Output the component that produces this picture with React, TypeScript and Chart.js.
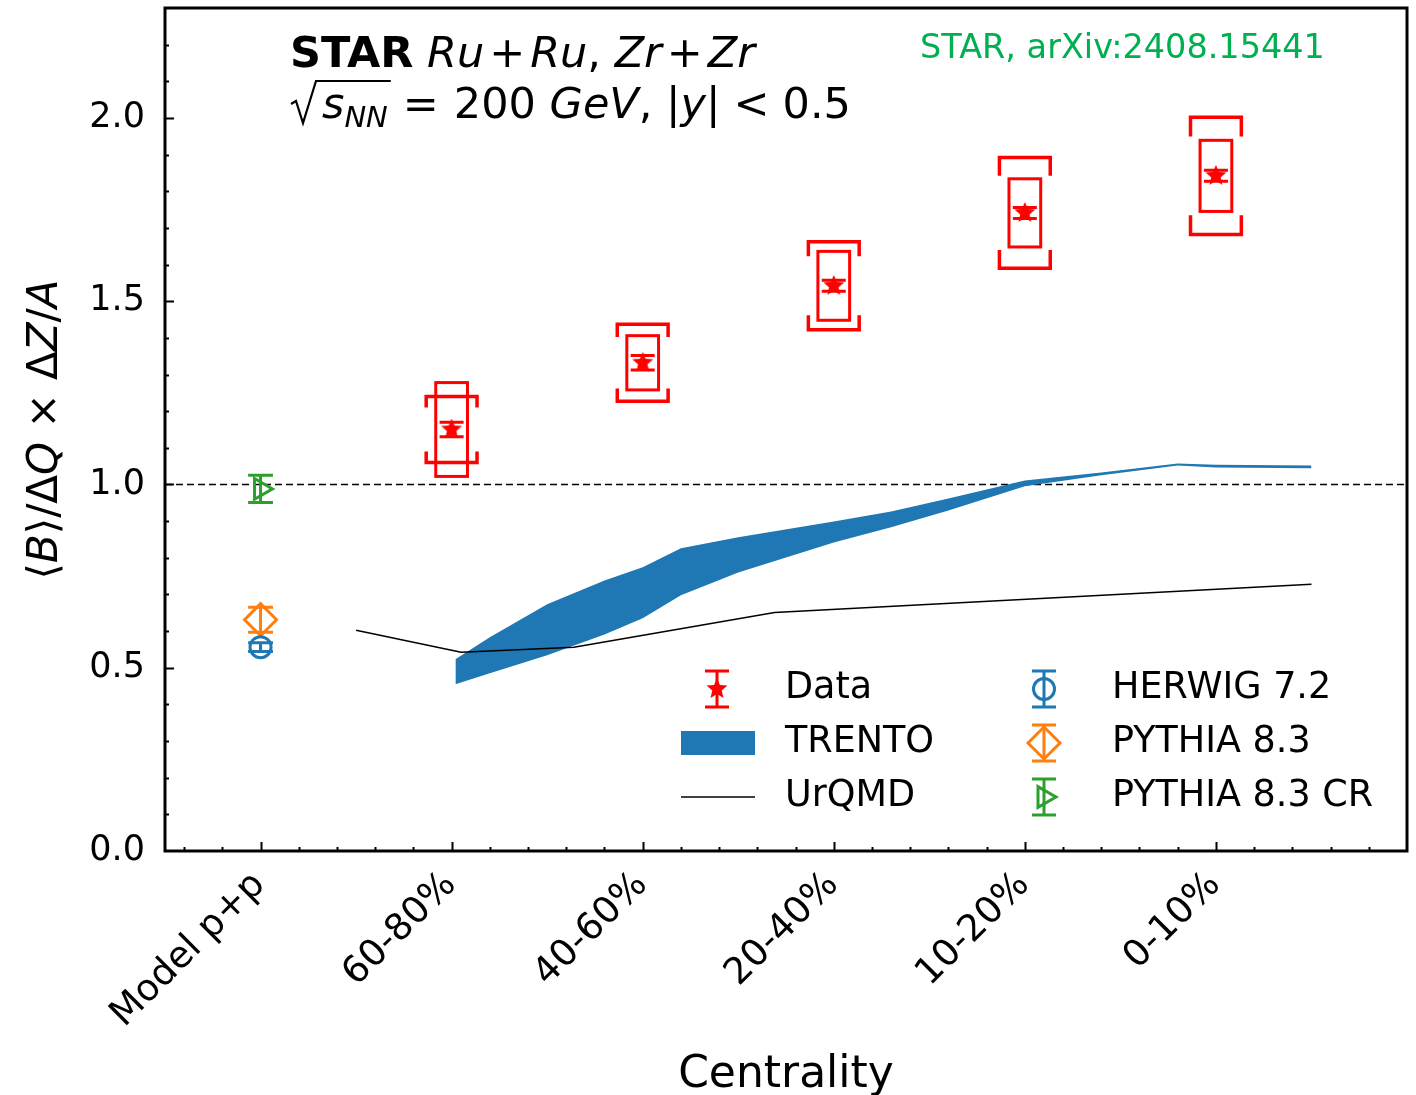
import React, { useEffect, useRef } from 'react';
import { Chart, registerables } from 'chart.js';
import { drawPoint } from 'chart.js/helpers';
Chart.register(...registerables);

const FONT = '"DejaVu Sans"';

// categories on the x axis (x = index)
const categories = ['Model p+p', '60-80%', '40-60%', '20-40%', '10-20%', '0-10%'];
const yTickValues = [0, 0.5, 1.0, 1.5, 2.0];

// STAR data
const dataX = [1, 2, 3, 4, 5];
const dataY = [1.150, 1.332, 1.542, 1.741, 1.842];
const dataStat = [0.02, 0.02, 0.015, 0.015, 0.015];
const dataSysBox = [0.128, 0.074, 0.094, 0.093, 0.097];
const dataSysBracket = [0.09, 0.105, 0.12, 0.151, 0.16];

// p+p model points
const herwigX = [0];
const herwigY = [0.556];
const herwigErr = [0.012];
const pythiaX = [0];
const pythiaY = [0.631];
const pythiaErr = [0.034];
const pythiaCRX = [0];
const pythiaCRY = [0.988];
const pythiaCRErr = [0.037];

// TRENTO band
const trentoX = [1.02, 1.2, 1.5, 1.8, 2.0, 2.2, 2.5, 3.0, 3.3, 3.6, 4.0, 4.4, 4.8, 5.0, 5.5];
const trentoHigh = [0.523, 0.583, 0.673, 0.738, 0.774, 0.826, 0.856, 0.899, 0.926, 0.962, 1.011, 1.033, 1.057, 1.054, 1.052];
const trentoLow = [0.455, 0.485, 0.534, 0.591, 0.635, 0.698, 0.760, 0.842, 0.883, 0.929, 0.995, 1.025, 1.052, 1.046, 1.044];

// UrQMD line
const urqmdX = [0.5, 1.05, 1.64, 2.69, 5.5];
const urqmdY = [0.602, 0.542, 0.556, 0.651, 0.728];

const RED = '#ff0000';
const BLUE = '#1f77b4';
const ORANGE = '#ff7f0e';
const GREEN = '#2ca02c';
const LABEL_GREEN = '#00b050';

function starPath(g: CanvasRenderingContext2D, cx: number, cy: number, R: number) {
  const r = R * 0.45;
  g.beginPath();
  for (let k = 0; k < 10; k++) {
    const a = -Math.PI / 2 + (k * Math.PI) / 5;
    const rr = k % 2 === 0 ? R : r;
    const px = cx + rr * Math.cos(a);
    const py = cy + rr * Math.sin(a);
    if (k === 0) g.moveTo(px, py);
    else g.lineTo(px, py);
  }
  g.closePath();
}

function makeStar(R: number, color: string) {
  const size = Math.ceil(R * 2 + 4);
  const c = document.createElement('canvas');
  c.width = size;
  c.height = size;
  const g = c.getContext('2d')!;
  starPath(g, size / 2, size / 2, R);
  g.fillStyle = color;
  g.fill();
  return c;
}

type Seg = { t: string; s?: 'n' | 'i' | 'b'; size?: number; dy?: number };

function fontOf(seg: Seg, base: number) {
  const size = seg.size ?? base;
  const st = seg.s === 'i' ? 'italic ' : seg.s === 'b' ? 'bold ' : '';
  return `${st}${size}px ${FONT}`;
}

function measureRich(ctx: CanvasRenderingContext2D, segs: Seg[], base: number) {
  let w = 0;
  for (const sg of segs) {
    ctx.font = fontOf(sg, base);
    w += ctx.measureText(sg.t).width;
  }
  return w;
}

function drawRich(ctx: CanvasRenderingContext2D, x: number, y: number, segs: Seg[], base: number) {
  let cx = x;
  ctx.textAlign = 'left';
  ctx.textBaseline = 'alphabetic';
  for (const sg of segs) {
    ctx.font = fontOf(sg, base);
    ctx.fillText(sg.t, cx, y + (sg.dy ?? 0));
    cx += ctx.measureText(sg.t).width;
  }
  return cx;
}

function errBar(ctx: CanvasRenderingContext2D, x: number, y1: number, y2: number, cap: number) {
  ctx.beginPath();
  ctx.moveTo(x, y1);
  ctx.lineTo(x, y2);
  ctx.moveTo(x - cap, y1);
  ctx.lineTo(x + cap, y1);
  ctx.moveTo(x - cap, y2);
  ctx.lineTo(x + cap, y2);
  ctx.stroke();
}

const customPlugin = {
  id: 'custom',
  afterDatasetsDraw(chart: any) {
    const ctx: CanvasRenderingContext2D = chart.ctx;
    const xs = chart.scales.x;
    const ys = chart.scales.y;
    ctx.save();
    ctx.strokeStyle = RED;
    for (let i = 0; i < dataX.length; i++) {
      const xc = xs.getPixelForValue(dataX[i]);
      const bx1 = xs.getPixelForValue(dataX[i] - 0.083);
      const bx2 = xs.getPixelForValue(dataX[i] + 0.083);
      const by1 = ys.getPixelForValue(dataY[i] + dataSysBox[i]);
      const by2 = ys.getPixelForValue(dataY[i] - dataSysBox[i]);
      ctx.lineWidth = 3;
      ctx.strokeRect(bx1, by1, bx2 - bx1, by2 - by1);
      const kx1 = xs.getPixelForValue(dataX[i] - 0.133);
      const kx2 = xs.getPixelForValue(dataX[i] + 0.133);
      const ky1 = ys.getPixelForValue(dataY[i] + dataSysBracket[i]);
      const ky2 = ys.getPixelForValue(dataY[i] - dataSysBracket[i]);
      const leg = ys.getPixelForValue(0) - ys.getPixelForValue(dataSysBracket[i] * 0.33);
      ctx.lineWidth = 3.5;
      ctx.beginPath();
      ctx.moveTo(kx1, ky1 + leg);
      ctx.lineTo(kx1, ky1);
      ctx.lineTo(kx2, ky1);
      ctx.lineTo(kx2, ky1 + leg);
      ctx.moveTo(kx1, ky2 - leg);
      ctx.lineTo(kx1, ky2);
      ctx.lineTo(kx2, ky2);
      ctx.lineTo(kx2, ky2 - leg);
      ctx.stroke();
      ctx.lineWidth = 3;
      errBar(ctx, xc, ys.getPixelForValue(dataY[i] + dataStat[i]), ys.getPixelForValue(dataY[i] - dataStat[i]), 12);
    }
    const models: [number[], number[], number[], string][] = [
      [herwigX, herwigY, herwigErr, BLUE],
      [pythiaX, pythiaY, pythiaErr, ORANGE],
      [pythiaCRX, pythiaCRY, pythiaCRErr, GREEN],
    ];
    ctx.lineWidth = 3;
    for (const [mx, my, me, col] of models) {
      ctx.strokeStyle = col;
      for (let i = 0; i < mx.length; i++) {
        const xc = xs.getPixelForValue(mx[i]);
        const cap = xs.getPixelForValue(mx[i] + 0.065) - xc;
        errBar(ctx, xc, ys.getPixelForValue(my[i] + me[i]), ys.getPixelForValue(my[i] - me[i]), cap);
      }
    }
    ctx.restore();
  },
  afterDraw(chart: any) {
    const ctx: CanvasRenderingContext2D = chart.ctx;
    const xs = chart.scales.x;
    const ys = chart.scales.y;
    const a = chart.chartArea;
    ctx.save();
    ctx.fillStyle = '#000';
    ctx.strokeStyle = '#000';

    // inward ticks
    ctx.lineWidth = 2;
    ctx.beginPath();
    for (let k = 1; k <= 22; k++) {
      const v = k / 10;
      const py = Math.round(ys.getPixelForValue(v)) + 0.5;
      const len = k % 5 === 0 ? 9 : 4;
      ctx.moveTo(a.left, py);
      ctx.lineTo(a.left + len, py);
    }
    for (let k = -2; k <= 30; k++) {
      const v = k / 5;
      if (v <= -0.5 || v >= 6) continue;
      const px = Math.round(xs.getPixelForValue(v)) + 0.5;
      const len = k % 5 === 0 ? 9 : 4;
      ctx.moveTo(px, a.bottom);
      ctx.lineTo(px, a.bottom - len);
    }
    ctx.stroke();

    // frame
    ctx.lineWidth = 3;
    ctx.strokeRect(a.left, a.top, a.right - a.left, a.bottom - a.top);

    // x tick labels (rotated 45)
    ctx.font = `37px ${FONT}`;
    ctx.textAlign = 'right';
    ctx.textBaseline = 'middle';
    categories.forEach((c, i) => {
      const px = xs.getPixelForValue(i);
      ctx.save();
      ctx.translate(px - 1, a.bottom + 28);
      ctx.rotate(-Math.PI / 4);
      ctx.fillText(c, 0, 0);
      ctx.restore();
    });

    // x title
    ctx.font = `44px ${FONT}`;
    ctx.textAlign = 'center';
    ctx.textBaseline = 'alphabetic';
    ctx.fillText('Centrality', (a.left + a.right) / 2, 1087);

    // y title
    const ySegs: Seg[] = [
      { t: '⟨' }, { t: 'B', s: 'i' }, { t: '⟩/Δ' }, { t: 'Q', s: 'i' },
      { t: ' × Δ' }, { t: 'Z', s: 'i' }, { t: '/' }, { t: 'A', s: 'i' },
    ];
    const yw = measureRich(ctx, ySegs, 42);
    ctx.save();
    ctx.translate(57, (a.top + a.bottom) / 2);
    ctx.rotate(-Math.PI / 2);
    drawRich(ctx, -yw / 2, 0, ySegs, 42);
    ctx.restore();

    // header text
    const x1 = drawRich(ctx, 290, 67, [{ t: 'STAR', s: 'b' }, { t: ' ' }], 43);
    let cx = x1;
    const l1: string[] = ['Ru', '+', 'Ru', ', ', 'Zr', '+', 'Zr'];
    for (const t of l1) {
      const isOp = t === '+';
      if (isOp) cx += 5;
      cx = drawRich(ctx, cx, 67, [{ t, s: t === ', ' ? 'n' : 'i' }], 43);
      if (isOp) cx += 5;
    }

    // second line with sqrt
    const by = 118;
    ctx.lineWidth = 2.2;
    ctx.beginPath();
    ctx.moveTo(291, by - 14);
    ctx.lineTo(296, by - 17);
    ctx.lineTo(303, by + 5);
    ctx.lineTo(316, by - 37);
    const sEnd = 322 + measureRich(ctx, [{ t: 's', s: 'i' }], 43) + measureRich(ctx, [{ t: 'NN', s: 'i', size: 29 }], 43) + 3;
    ctx.lineTo(sEnd, by - 37);
    ctx.stroke();
    let x2 = drawRich(ctx, 322, by, [{ t: 's', s: 'i' }, { t: 'NN', s: 'i', size: 29, dy: 9 }], 43);
    x2 = drawRich(ctx, x2 + 15, by, [{ t: '=' }], 43);
    x2 = drawRich(ctx, x2 + 15, by, [
      { t: '200 ' }, { t: 'GeV', s: 'i' }, { t: ', |' }, { t: 'y', s: 'i' }, { t: '|' },
    ], 43);
    x2 = drawRich(ctx, x2 + 13, by, [{ t: '<' }], 43);
    drawRich(ctx, x2 + 13, by, [{ t: '0.5' }], 43);

    // green reference
    ctx.fillStyle = LABEL_GREEN;
    ctx.font = `33.5px ${FONT}`;
    ctx.textAlign = 'left';
    ctx.fillText('STAR, arXiv:2408.15441', 920, 58);

    // legend
    const rows = [689, 743, 797];
    const c1 = 717;
    const c2 = 1044;
    ctx.font = `36.5px ${FONT}`;
    ctx.fillStyle = '#000';
    ctx.textBaseline = 'middle';
    ctx.textAlign = 'left';
    ctx.fillText('Data', 785, rows[0]);
    ctx.fillText('TRENTO', 785, rows[1]);
    ctx.fillText('UrQMD', 785, rows[2]);
    ctx.fillText('HERWIG 7.2', 1112, rows[0]);
    ctx.fillText('PYTHIA 8.3', 1112, rows[1]);
    ctx.fillText('PYTHIA 8.3 CR', 1112, rows[2]);

    ctx.strokeStyle = RED;
    ctx.lineWidth = 3;
    errBar(ctx, c1, rows[0] - 18, rows[0] + 18, 12);
    ctx.fillStyle = RED;
    starPath(ctx, c1, rows[0], 11);
    ctx.fill();
    ctx.fillStyle = BLUE;
    ctx.fillRect(681, rows[1] - 12, 74, 24);
    ctx.strokeStyle = '#000';
    ctx.lineWidth = 1.5;
    ctx.beginPath();
    ctx.moveTo(681, rows[2]);
    ctx.lineTo(755, rows[2]);
    ctx.stroke();
    const mh: [string, string, number, number, number][] = [
      [BLUE, 'circle', 10.5, 0, rows[0]],
      [ORANGE, 'rectRot', 16, 0, rows[1]],
      [GREEN, 'triangle', 12, 90, rows[2]],
    ];
    for (const [col, ps, r, rot, ry] of mh) {
      ctx.strokeStyle = col;
      ctx.fillStyle = 'rgba(0,0,0,0)';
      ctx.lineWidth = 3;
      errBar(ctx, c2, ry - 18, ry + 18, 12);
      drawPoint(ctx, { pointStyle: ps as any, radius: r, rotation: rot, borderWidth: 3 } as any, c2, ry);
    }
    ctx.restore();
  },
};

export default function App() {
  const ref = useRef<HTMLCanvasElement | null>(null);
  useEffect(() => {
    if (!ref.current) return;
    const star = makeStar(11, RED);
    const chart = new Chart(ref.current, {
      type: 'scatter',
      data: {
        datasets: [
          {
            type: 'scatter',
            label: 'Data',
            data: dataX.map((x, i) => ({ x, y: dataY[i] })),
            pointStyle: star as any,
            pointRadius: 11,
            order: 0,
          } as any,
          {
            type: 'scatter',
            label: 'HERWIG 7.2',
            data: herwigX.map((x, i) => ({ x, y: herwigY[i] })),
            pointStyle: 'circle',
            pointRadius: 10.5,
            borderColor: BLUE,
            backgroundColor: 'rgba(0,0,0,0)',
            borderWidth: 3,
            order: 1,
          },
          {
            type: 'scatter',
            label: 'PYTHIA 8.3',
            data: pythiaX.map((x, i) => ({ x, y: pythiaY[i] })),
            pointStyle: 'rectRot',
            pointRadius: 16,
            borderColor: ORANGE,
            backgroundColor: 'rgba(0,0,0,0)',
            borderWidth: 3,
            order: 1,
          },
          {
            type: 'scatter',
            label: 'PYTHIA 8.3 CR',
            data: pythiaCRX.map((x, i) => ({ x, y: pythiaCRY[i] })),
            pointStyle: 'triangle',
            rotation: 90,
            pointRadius: 12,
            borderColor: GREEN,
            backgroundColor: 'rgba(0,0,0,0)',
            borderWidth: 3,
            order: 1,
          } as any,
          {
            type: 'line',
            label: 'TRENTO high',
            data: trentoX.map((x, i) => ({ x, y: trentoHigh[i] })),
            borderWidth: 0,
            borderColor: 'rgba(0,0,0,0)',
            pointRadius: 0,
            backgroundColor: BLUE,
            fill: '+1',
            tension: 0,
            order: 5,
          } as any,
          {
            type: 'line',
            label: 'TRENTO low',
            data: trentoX.map((x, i) => ({ x, y: trentoLow[i] })),
            borderWidth: 0,
            borderColor: 'rgba(0,0,0,0)',
            pointRadius: 0,
            backgroundColor: BLUE,
            fill: false,
            tension: 0,
            order: 5,
          } as any,
          {
            type: 'line',
            label: 'UrQMD',
            data: urqmdX.map((x, i) => ({ x, y: urqmdY[i] })),
            borderWidth: 1.5,
            borderColor: '#000',
            pointRadius: 0,
            fill: false,
            tension: 0,
            order: 4,
          } as any,
          {
            type: 'line',
            label: 'unity',
            data: [{ x: -0.5, y: 1 }, { x: 6, y: 1 }],
            borderWidth: 1.5,
            borderColor: '#000',
            borderDash: [7, 4],
            pointRadius: 0,
            fill: false,
            order: 6,
          } as any,
        ],
      },
      options: {
        animation: false,
        responsive: false,
        layout: { autoPadding: false, padding: { left: 0, right: 9, top: 8, bottom: 0 } },
        plugins: { legend: { display: false }, tooltip: { enabled: false } },
        scales: {
          x: {
            type: 'linear',
            min: -0.5,
            max: 6,
            grid: { display: false, drawTicks: false },
            border: { display: false },
            ticks: { display: false },
            afterBuildTicks: (s: any) => {
              s.ticks = categories.map((_, i) => ({ value: i }));
            },
            afterFit: (s: any) => {
              s.height = 244;
              s.paddingLeft = 0;
              s.paddingRight = 0;
              s.paddingTop = 0;
              s.paddingBottom = 0;
            },
          },
          y: {
            type: 'linear',
            min: 0,
            max: 2.3,
            grid: { display: false, drawTicks: false },
            border: { display: false },
            ticks: {
              padding: 20,
              color: '#000',
              font: { family: 'DejaVu Sans', size: 35 },
              callback: (v: any) => Number(v).toFixed(1),
            },
            afterBuildTicks: (s: any) => {
              s.ticks = yTickValues.map((v) => ({ value: v }));
            },
            afterFit: (s: any) => {
              s.width = 165;
              s.paddingLeft = 0;
              s.paddingRight = 0;
              s.paddingTop = 0;
              s.paddingBottom = 0;
            },
          },
        },
      },
      plugins: [customPlugin],
    });
    return () => chart.destroy();
  }, []);
  return (
    <div style={{ position: 'fixed', left: 0, top: 0, width: 1416, height: 1095, background: '#fff' }}>
      <canvas ref={ref} width={1416} height={1095} style={{ display: 'block' }} />
    </div>
  );
}
